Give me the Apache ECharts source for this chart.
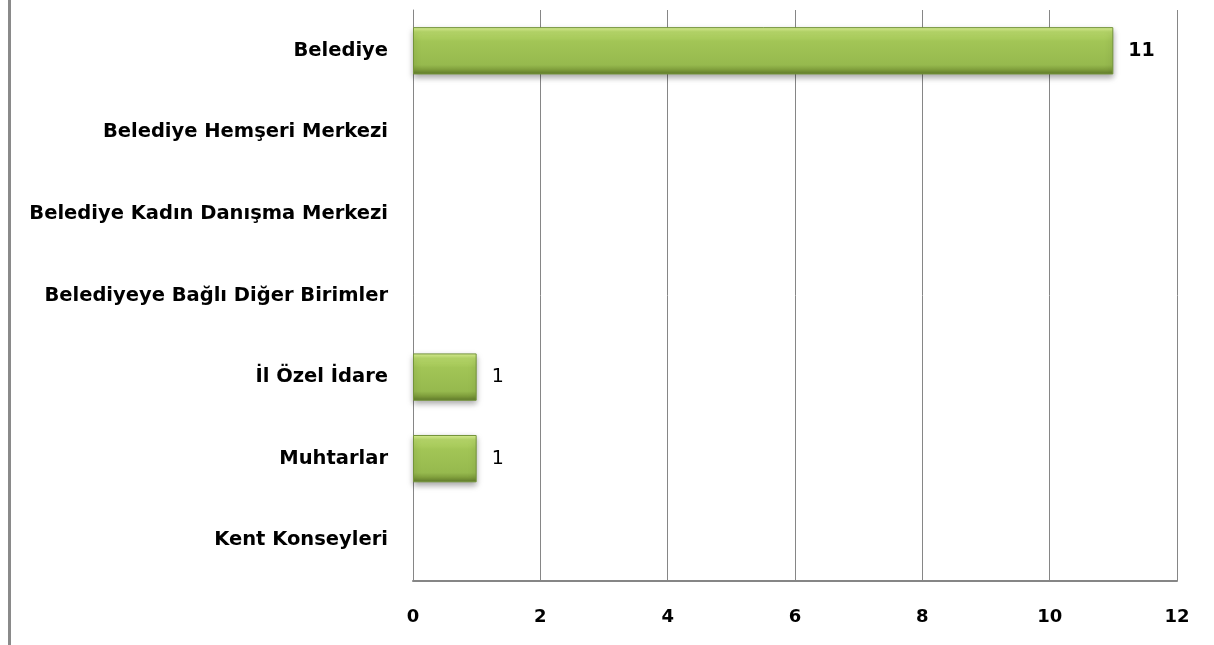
<!DOCTYPE html>
<html><head><meta charset="utf-8">
<script src="https://cdn.jsdelivr.net/npm/echarts@6/dist/echarts.min.js"></script>
<style>html,body{margin:0;padding:0;background:#fff}#c{width:1214px;height:645px}</style>
</head><body><div id="c"></div>
<script>
const categories = ["Belediye","Belediye Hemşeri Merkezi","Belediye Kadın Danışma Merkezi","Belediyeye Bağlı Diğer Birimler","İl Özel İdare","Muhtarlar","Kent Konseyleri"];
const values = [11,0,0,0,1,1,0];
const xTicks = {min:0,max:12,interval:2};

const FONT = '"DejaVu Sans"';
const chart = echarts.init(document.getElementById('c'));
const barColor = new echarts.graphic.LinearGradient(0,0,0,1,[
  {offset:0,color:'#e0f59a'},
  {offset:0.1,color:'#b8d96a'},
  {offset:0.3,color:'#a2c556'},
  {offset:0.8,color:'#96b94e'},
  {offset:0.9,color:'#7f9e3c'},
  {offset:1,color:'#5f7a2a'}
]);
chart.setOption({
  animation:false,
  grid:{left:413,right:37,top:10,bottom:64,containLabel:false},
  xAxis:{type:'value',min:xTicks.min,max:xTicks.max,interval:xTicks.interval,
    axisLine:{show:true,lineStyle:{color:'#868686',width:2}},
    axisTick:{show:false},
    splitLine:{show:true,lineStyle:{color:'#868686',width:1}},
    axisLabel:{color:'#000',fontFamily:FONT,fontWeight:'bold',fontSize:18,margin:27}},
  yAxis:{type:'category',inverse:true,data:categories,
    axisLine:{show:true,lineStyle:{color:'#868686',width:1}},
    axisTick:{show:false},
    axisLabel:{color:'#000',fontFamily:FONT,fontWeight:'bold',fontSize:19.5,margin:25}},
  series:[{type:'bar',barWidth:'58%',
    data:values.map((v,i)=>({value:v,
      itemStyle:{borderWidth:v>0?1:0},
      label:{show:v>0,fontWeight:v>=10?'bold':'normal'}})),
    itemStyle:{color:barColor,borderColor:'#74943a',shadowColor:'rgba(0,0,0,0.35)',shadowBlur:6,shadowOffsetY:3},
    label:{position:'right',distance:15,color:'#000',fontFamily:FONT,fontSize:19}
  }],
  graphic:[{type:'line',shape:{x1:9.5,y1:0,x2:9.5,y2:645},style:{stroke:'#8a8a8a',lineWidth:3}}]
});
</script></body></html>
